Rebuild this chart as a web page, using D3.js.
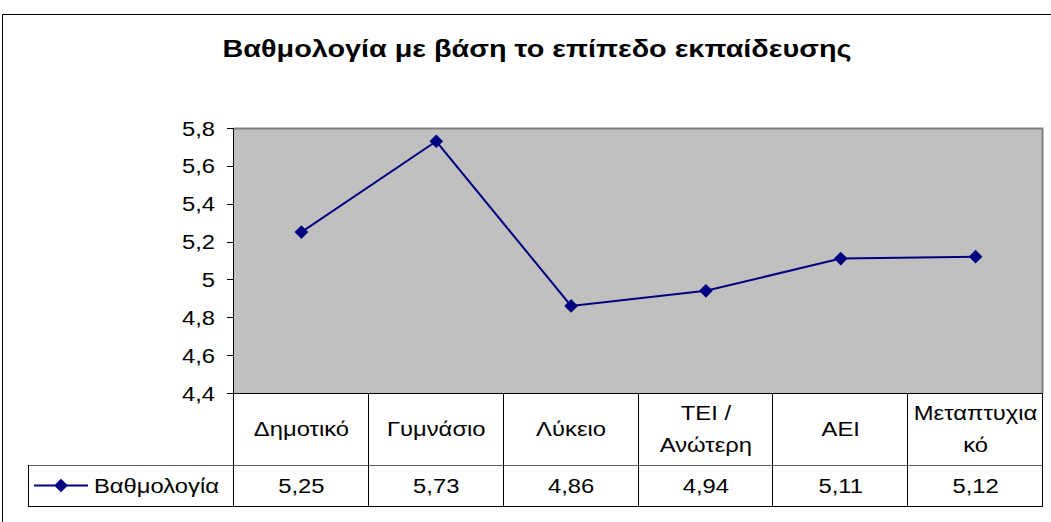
<!DOCTYPE html>
<html>
<head>
<meta charset="utf-8">
<script src="https://cdn.jsdelivr.net/npm/d3@7"></script>
<style>
  html, body { margin: 0; padding: 0; background: #fff; }
  svg { display: block; font-family: Arial, "Liberation Sans", sans-serif; }
</style>
</head>
<body>
<svg id="chart" width="1051" height="522"></svg>
<script>
// Μέση βαθμολογία ανά επίπεδο εκπαίδευσης
const title = "Βαθμολογία με βάση το επίπεδο εκπαίδευσης";
const seriesName = "Βαθμολογία";
const categories = ["Δημοτικό", "Γυμνάσιο", "Λύκειο", "ΤΕΙ / Ανώτερη", "ΑΕΙ", "Μεταπτυχιακό"];
// Category labels as wrapped in the data table header
const categoryLines = [["Δημοτικό"], ["Γυμνάσιο"], ["Λύκειο"], ["ΤΕΙ /", "Ανώτερη"], ["ΑΕΙ"], ["Μεταπτυχια", "κό"]];
const values = [5.25, 5.73, 4.86, 4.94, 5.11, 5.12];
const yTicks = [4.4, 4.6, 4.8, 5.0, 5.2, 5.4, 5.6, 5.8];

const grLocale = d3.formatLocale({ decimal: ",", thousands: ".", grouping: [3], currency: ["", "€"] });
const fmtTick = grLocale.format("~g");
const fmtValue = grLocale.format(".2f");

const svg = d3.select("#chart");
const W = 1051, H = 522;

// Text is drawn slightly widened, like the original chart's font rendering
const FS = 19.5, SX = 1.22;
function label(parent, x, y, str, anchor, size = FS, sx = SX, weight = "normal") {
  return parent.append("text")
    .attr("transform", `translate(${x},${y}) scale(${sx},1)`)
    .attr("text-anchor", anchor)
    .attr("font-size", size)
    .attr("font-weight", weight)
    .attr("fill", "#000")
    .text(str);
}

// Plot area
const plot = { left: 234, right: 1043, top: 128, bottom: 393 };
const tableRow1 = 465, tableRow2 = 506, legendLeft = 28;

const x = d3.scaleBand().domain(categories).range([plot.left, plot.right]).padding(0);
const y = d3.scaleLinear().domain([4.4, 5.8]).range([plot.bottom, plot.top]);

// Outer chart frame
svg.append("path")
  .attr("d", `M2.5,${H + 5} L2.5,14.5 L${W + 5},14.5`)
  .attr("fill", "none").attr("stroke", "#000").attr("stroke-width", 1);

// Title
label(svg, 537, 57, title, "middle", 24, 1.2, "bold");

// Plot background
svg.append("rect")
  .attr("x", plot.left).attr("y", plot.top)
  .attr("width", plot.right - plot.left).attr("height", plot.bottom - plot.top)
  .attr("fill", "#c0c0c0");
// Gray frame on top and right
svg.append("path")
  .attr("d", `M${plot.left},${plot.top + 0.5} L${plot.right - 0.5},${plot.top + 0.5} L${plot.right - 0.5},${plot.bottom}`)
  .attr("fill", "none").attr("stroke", "#808080").attr("stroke-width", 2);

// Y axis ticks and labels
const gy = svg.append("g");
yTicks.forEach(t => {
  const yy = Math.round(y(t)) + 0.5;
  gy.append("line")
    .attr("x1", plot.left - 7).attr("x2", plot.left)
    .attr("y1", yy).attr("y2", yy)
    .attr("stroke", "#000");
  label(gy, 215, y(t) + 7.5, fmtTick(t), "end");
});
svg.append("line")
  .attr("x1", plot.left - 0.5).attr("x2", plot.left - 0.5)
  .attr("y1", plot.top).attr("y2", tableRow2)
  .attr("stroke", "#000");

// Data table grid
const grid = svg.append("g").attr("stroke", "#000").attr("stroke-width", 1).attr("fill", "none");
grid.append("line")
  .attr("x1", plot.left - 7).attr("x2", plot.right)
  .attr("y1", plot.bottom + 0.5).attr("y2", plot.bottom + 0.5);
grid.append("line")
  .attr("x1", legendLeft).attr("x2", plot.right)
  .attr("y1", tableRow1 + 0.5).attr("y2", tableRow1 + 0.5)
  .attr("stroke", "#606060");
grid.append("line")
  .attr("x1", legendLeft).attr("x2", plot.right)
  .attr("y1", tableRow2 + 0.5).attr("y2", tableRow2 + 0.5);
grid.append("line")
  .attr("x1", legendLeft + 0.5).attr("x2", legendLeft + 0.5)
  .attr("y1", tableRow1).attr("y2", tableRow2 + 1);
categories.forEach(c => {
  const xr = Math.round(x(c) + x.bandwidth()) - 0.5;
  grid.append("line")
    .attr("x1", xr).attr("x2", xr)
    .attr("y1", plot.bottom).attr("y2", tableRow2 + 1)
    .attr("stroke", "#000");
});

// Category header labels
const headerMid = (plot.bottom + tableRow1) / 2;
categories.forEach((c, i) => {
  const lines = categoryLines[i];
  const cx = x(c) + x.bandwidth() / 2;
  lines.forEach((ln, j) => {
    label(svg, cx, headerMid + 7 + (j - (lines.length - 1) / 2) * 32, ln, "middle");
  });
});

// Values row
const valueMid = (tableRow1 + tableRow2) / 2;
values.forEach((v, i) => {
  label(svg, x(categories[i]) + x.bandwidth() / 2, valueMid + 7.5, fmtValue(v), "middle");
});

// Legend key in the table
const navy = "#000080";
const diamond = d3.symbol().type(d3.symbolDiamond2).size(120);
svg.append("line")
  .attr("x1", 34).attr("x2", 88)
  .attr("y1", valueMid).attr("y2", valueMid)
  .attr("stroke", navy).attr("stroke-width", 2);
svg.append("path")
  .attr("d", diamond())
  .attr("transform", `translate(61,${valueMid})`)
  .attr("fill", navy);
label(svg, 94, valueMid + 7.5, seriesName, "start");

// Series line and markers
const pts = values.map((v, i) => [x(categories[i]) + x.bandwidth() / 2, y(v)]);
svg.append("path")
  .attr("d", d3.line()(pts))
  .attr("fill", "none").attr("stroke", navy).attr("stroke-width", 2);
svg.append("g").selectAll("path")
  .data(pts)
  .join("path")
  .attr("d", diamond())
  .attr("transform", d => `translate(${d[0]},${d[1]})`)
  .attr("fill", navy);
</script>
</body>
</html>
